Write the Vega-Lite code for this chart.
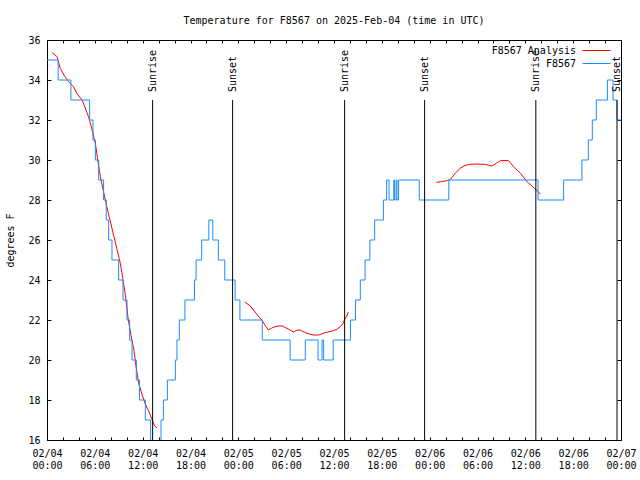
{
  "$schema": "https://vega.github.io/schema/vega-lite/v6.json",
  "width": 574,
  "height": 400,
  "autosize": {"type": "none"},
  "padding": {"left": 47, "top": 40, "right": 19, "bottom": 40},
  "background": "white",
  "title": {"text": "Temperature for F8567 on 2025-Feb-04 (time in UTC)", "font": "DejaVu Sans Mono", "fontSize": 10, "fontWeight": "normal", "color": "black", "anchor": "middle", "offset": 9},
  "config": {
    "view": {"stroke": "black", "strokeWidth": 1},
    "font": "DejaVu Sans Mono",
    "legend": {
      "orient": "none", "legendX": 544, "legendY": 5, "padding": 0, "title": null,
      "symbolType": "M-3,0H3", "symbolSize": 87, "symbolStrokeWidth": 1,
      "labelFont": "DejaVu Sans Mono", "labelFontSize": 10, "labelColor": "black",
      "labelAlign": "right", "labelOffset": -26, "rowPadding": 2
    }
  },
  "datasets": {
    "obs": [
      {"series": "F8567", "t": "2025-02-04T00:00:00Z", "temp": 35},
      {"series": "F8567", "t": "2025-02-04T01:24:00Z", "temp": 34},
      {"series": "F8567", "t": "2025-02-04T03:00:00Z", "temp": 33},
      {"series": "F8567", "t": "2025-02-04T05:21:00Z", "temp": 32},
      {"series": "F8567", "t": "2025-02-04T05:46:00Z", "temp": 31},
      {"series": "F8567", "t": "2025-02-04T06:04:00Z", "temp": 30},
      {"series": "F8567", "t": "2025-02-04T06:29:00Z", "temp": 29},
      {"series": "F8567", "t": "2025-02-04T07:06:00Z", "temp": 28},
      {"series": "F8567", "t": "2025-02-04T07:26:00Z", "temp": 27},
      {"series": "F8567", "t": "2025-02-04T07:44:00Z", "temp": 26},
      {"series": "F8567", "t": "2025-02-04T08:09:00Z", "temp": 25},
      {"series": "F8567", "t": "2025-02-04T08:59:00Z", "temp": 24},
      {"series": "F8567", "t": "2025-02-04T09:32:00Z", "temp": 23},
      {"series": "F8567", "t": "2025-02-04T10:02:00Z", "temp": 22},
      {"series": "F8567", "t": "2025-02-04T10:22:00Z", "temp": 21},
      {"series": "F8567", "t": "2025-02-04T10:40:00Z", "temp": 20},
      {"series": "F8567", "t": "2025-02-04T11:12:00Z", "temp": 19},
      {"series": "F8567", "t": "2025-02-04T11:36:00Z", "temp": 18},
      {"series": "F8567", "t": "2025-02-04T12:20:00Z", "temp": 17},
      {"series": "F8567", "t": "2025-02-04T13:00:00Z", "temp": 16},
      {"series": "F8567", "t": "2025-02-04T13:06:00Z", "temp": 15},
      {"series": "F8567", "t": "2025-02-04T14:03:00Z", "temp": 16},
      {"series": "F8567", "t": "2025-02-04T14:18:00Z", "temp": 17},
      {"series": "F8567", "t": "2025-02-04T14:36:00Z", "temp": 18},
      {"series": "F8567", "t": "2025-02-04T15:06:00Z", "temp": 19},
      {"series": "F8567", "t": "2025-02-04T16:06:00Z", "temp": 20},
      {"series": "F8567", "t": "2025-02-04T16:18:00Z", "temp": 21},
      {"series": "F8567", "t": "2025-02-04T16:36:00Z", "temp": 22},
      {"series": "F8567", "t": "2025-02-04T17:18:00Z", "temp": 23},
      {"series": "F8567", "t": "2025-02-04T18:30:00Z", "temp": 24},
      {"series": "F8567", "t": "2025-02-04T18:42:00Z", "temp": 25},
      {"series": "F8567", "t": "2025-02-04T19:24:00Z", "temp": 26},
      {"series": "F8567", "t": "2025-02-04T20:18:00Z", "temp": 27},
      {"series": "F8567", "t": "2025-02-04T20:48:00Z", "temp": 26},
      {"series": "F8567", "t": "2025-02-04T21:30:00Z", "temp": 25},
      {"series": "F8567", "t": "2025-02-04T22:18:00Z", "temp": 24},
      {"series": "F8567", "t": "2025-02-04T23:36:00Z", "temp": 23},
      {"series": "F8567", "t": "2025-02-05T00:12:00Z", "temp": 22},
      {"series": "F8567", "t": "2025-02-05T03:00:00Z", "temp": 21},
      {"series": "F8567", "t": "2025-02-05T06:30:00Z", "temp": 20},
      {"series": "F8567", "t": "2025-02-05T08:24:00Z", "temp": 21},
      {"series": "F8567", "t": "2025-02-05T10:00:00Z", "temp": 20},
      {"series": "F8567", "t": "2025-02-05T10:30:00Z", "temp": 21},
      {"series": "F8567", "t": "2025-02-05T10:42:00Z", "temp": 20},
      {"series": "F8567", "t": "2025-02-05T11:54:00Z", "temp": 21},
      {"series": "F8567", "t": "2025-02-05T14:04:00Z", "temp": 22},
      {"series": "F8567", "t": "2025-02-05T14:42:00Z", "temp": 23},
      {"series": "F8567", "t": "2025-02-05T15:18:00Z", "temp": 24},
      {"series": "F8567", "t": "2025-02-05T15:54:00Z", "temp": 25},
      {"series": "F8567", "t": "2025-02-05T16:30:00Z", "temp": 26},
      {"series": "F8567", "t": "2025-02-05T17:06:00Z", "temp": 27},
      {"series": "F8567", "t": "2025-02-05T18:12:00Z", "temp": 28},
      {"series": "F8567", "t": "2025-02-05T18:36:00Z", "temp": 29},
      {"series": "F8567", "t": "2025-02-05T18:54:00Z", "temp": 28},
      {"series": "F8567", "t": "2025-02-05T19:30:00Z", "temp": 29},
      {"series": "F8567", "t": "2025-02-05T19:36:00Z", "temp": 28},
      {"series": "F8567", "t": "2025-02-05T19:48:00Z", "temp": 29},
      {"series": "F8567", "t": "2025-02-05T19:54:00Z", "temp": 28},
      {"series": "F8567", "t": "2025-02-05T20:06:00Z", "temp": 29},
      {"series": "F8567", "t": "2025-02-05T22:42:00Z", "temp": 28},
      {"series": "F8567", "t": "2025-02-06T02:24:00Z", "temp": 29},
      {"series": "F8567", "t": "2025-02-06T13:36:00Z", "temp": 28},
      {"series": "F8567", "t": "2025-02-06T16:48:00Z", "temp": 29},
      {"series": "F8567", "t": "2025-02-06T19:06:00Z", "temp": 30},
      {"series": "F8567", "t": "2025-02-06T19:54:00Z", "temp": 31},
      {"series": "F8567", "t": "2025-02-06T20:24:00Z", "temp": 32},
      {"series": "F8567", "t": "2025-02-06T20:54:00Z", "temp": 33},
      {"series": "F8567", "t": "2025-02-06T22:18:00Z", "temp": 34},
      {"series": "F8567", "t": "2025-02-06T23:00:00Z", "temp": 33},
      {"series": "F8567", "t": "2025-02-06T23:30:00Z", "temp": 32},
      {"series": "F8567", "t": "2025-02-07T00:00:00Z", "temp": 32}
    ],
    "ana": [
      {"series": "F8567 Analysis", "seg": 1, "t": "2025-02-04T00:38:00Z", "temp": 35.37},
      {"series": "F8567 Analysis", "seg": 1, "t": "2025-02-04T01:15:00Z", "temp": 35.17},
      {"series": "F8567 Analysis", "seg": 1, "t": "2025-02-04T01:40:00Z", "temp": 34.58},
      {"series": "F8567 Analysis", "seg": 1, "t": "2025-02-04T02:12:00Z", "temp": 34.2},
      {"series": "F8567 Analysis", "seg": 1, "t": "2025-02-04T02:42:00Z", "temp": 33.92},
      {"series": "F8567 Analysis", "seg": 1, "t": "2025-02-04T03:18:00Z", "temp": 33.67},
      {"series": "F8567 Analysis", "seg": 1, "t": "2025-02-04T03:48:00Z", "temp": 33.3},
      {"series": "F8567 Analysis", "seg": 1, "t": "2025-02-04T04:24:00Z", "temp": 33.0},
      {"series": "F8567 Analysis", "seg": 1, "t": "2025-02-04T04:48:00Z", "temp": 32.6},
      {"series": "F8567 Analysis", "seg": 1, "t": "2025-02-04T05:12:00Z", "temp": 32.17},
      {"series": "F8567 Analysis", "seg": 1, "t": "2025-02-04T05:36:00Z", "temp": 31.6},
      {"series": "F8567 Analysis", "seg": 1, "t": "2025-02-04T06:04:00Z", "temp": 30.83},
      {"series": "F8567 Analysis", "seg": 1, "t": "2025-02-04T06:24:00Z", "temp": 29.9},
      {"series": "F8567 Analysis", "seg": 1, "t": "2025-02-04T06:42:00Z", "temp": 29.17},
      {"series": "F8567 Analysis", "seg": 1, "t": "2025-02-04T07:06:00Z", "temp": 28.4},
      {"series": "F8567 Analysis", "seg": 1, "t": "2025-02-04T07:30:00Z", "temp": 27.67},
      {"series": "F8567 Analysis", "seg": 1, "t": "2025-02-04T07:54:00Z", "temp": 27.0},
      {"series": "F8567 Analysis", "seg": 1, "t": "2025-02-04T08:24:00Z", "temp": 26.17},
      {"series": "F8567 Analysis", "seg": 1, "t": "2025-02-04T08:48:00Z", "temp": 25.5},
      {"series": "F8567 Analysis", "seg": 1, "t": "2025-02-04T09:12:00Z", "temp": 24.83},
      {"series": "F8567 Analysis", "seg": 1, "t": "2025-02-04T09:30:00Z", "temp": 24.1},
      {"series": "F8567 Analysis", "seg": 1, "t": "2025-02-04T09:48:00Z", "temp": 23.33},
      {"series": "F8567 Analysis", "seg": 1, "t": "2025-02-04T10:12:00Z", "temp": 22.0},
      {"series": "F8567 Analysis", "seg": 1, "t": "2025-02-04T10:30:00Z", "temp": 21.3},
      {"series": "F8567 Analysis", "seg": 1, "t": "2025-02-04T10:54:00Z", "temp": 20.5},
      {"series": "F8567 Analysis", "seg": 1, "t": "2025-02-04T11:12:00Z", "temp": 19.6},
      {"series": "F8567 Analysis", "seg": 1, "t": "2025-02-04T11:30:00Z", "temp": 18.83},
      {"series": "F8567 Analysis", "seg": 1, "t": "2025-02-04T11:54:00Z", "temp": 18.3},
      {"series": "F8567 Analysis", "seg": 1, "t": "2025-02-04T12:18:00Z", "temp": 17.83},
      {"series": "F8567 Analysis", "seg": 1, "t": "2025-02-04T12:48:00Z", "temp": 17.4},
      {"series": "F8567 Analysis", "seg": 1, "t": "2025-02-04T13:12:00Z", "temp": 17.0},
      {"series": "F8567 Analysis", "seg": 1, "t": "2025-02-04T13:30:00Z", "temp": 16.7},
      {"series": "F8567 Analysis", "seg": 1, "t": "2025-02-04T13:48:00Z", "temp": 16.6},
      {"series": "F8567 Analysis", "seg": 2, "t": "2025-02-05T00:48:00Z", "temp": 22.9},
      {"series": "F8567 Analysis", "seg": 2, "t": "2025-02-05T01:30:00Z", "temp": 22.7},
      {"series": "F8567 Analysis", "seg": 2, "t": "2025-02-05T02:06:00Z", "temp": 22.4},
      {"series": "F8567 Analysis", "seg": 2, "t": "2025-02-05T02:30:00Z", "temp": 22.2},
      {"series": "F8567 Analysis", "seg": 2, "t": "2025-02-05T02:58:00Z", "temp": 22.0},
      {"series": "F8567 Analysis", "seg": 2, "t": "2025-02-05T03:24:00Z", "temp": 21.7},
      {"series": "F8567 Analysis", "seg": 2, "t": "2025-02-05T03:48:00Z", "temp": 21.5},
      {"series": "F8567 Analysis", "seg": 2, "t": "2025-02-05T04:12:00Z", "temp": 21.6},
      {"series": "F8567 Analysis", "seg": 2, "t": "2025-02-05T04:36:00Z", "temp": 21.67},
      {"series": "F8567 Analysis", "seg": 2, "t": "2025-02-05T05:06:00Z", "temp": 21.7},
      {"series": "F8567 Analysis", "seg": 2, "t": "2025-02-05T05:30:00Z", "temp": 21.7},
      {"series": "F8567 Analysis", "seg": 2, "t": "2025-02-05T05:54:00Z", "temp": 21.62},
      {"series": "F8567 Analysis", "seg": 2, "t": "2025-02-05T06:18:00Z", "temp": 21.55},
      {"series": "F8567 Analysis", "seg": 2, "t": "2025-02-05T06:54:00Z", "temp": 21.4},
      {"series": "F8567 Analysis", "seg": 2, "t": "2025-02-05T07:18:00Z", "temp": 21.48},
      {"series": "F8567 Analysis", "seg": 2, "t": "2025-02-05T07:42:00Z", "temp": 21.5},
      {"series": "F8567 Analysis", "seg": 2, "t": "2025-02-05T08:00:00Z", "temp": 21.45},
      {"series": "F8567 Analysis", "seg": 2, "t": "2025-02-05T08:24:00Z", "temp": 21.37},
      {"series": "F8567 Analysis", "seg": 2, "t": "2025-02-05T08:54:00Z", "temp": 21.3},
      {"series": "F8567 Analysis", "seg": 2, "t": "2025-02-05T09:24:00Z", "temp": 21.25},
      {"series": "F8567 Analysis", "seg": 2, "t": "2025-02-05T10:06:00Z", "temp": 21.25},
      {"series": "F8567 Analysis", "seg": 2, "t": "2025-02-05T10:54:00Z", "temp": 21.37},
      {"series": "F8567 Analysis", "seg": 2, "t": "2025-02-05T11:30:00Z", "temp": 21.42},
      {"series": "F8567 Analysis", "seg": 2, "t": "2025-02-05T11:57:00Z", "temp": 21.47},
      {"series": "F8567 Analysis", "seg": 2, "t": "2025-02-05T12:24:00Z", "temp": 21.55},
      {"series": "F8567 Analysis", "seg": 2, "t": "2025-02-05T12:48:00Z", "temp": 21.67},
      {"series": "F8567 Analysis", "seg": 2, "t": "2025-02-05T13:06:00Z", "temp": 21.8},
      {"series": "F8567 Analysis", "seg": 2, "t": "2025-02-05T13:18:00Z", "temp": 22.0},
      {"series": "F8567 Analysis", "seg": 2, "t": "2025-02-05T13:36:00Z", "temp": 22.2},
      {"series": "F8567 Analysis", "seg": 2, "t": "2025-02-05T13:48:00Z", "temp": 22.4},
      {"series": "F8567 Analysis", "seg": 3, "t": "2025-02-06T00:50:00Z", "temp": 28.88},
      {"series": "F8567 Analysis", "seg": 3, "t": "2025-02-06T01:30:00Z", "temp": 28.92},
      {"series": "F8567 Analysis", "seg": 3, "t": "2025-02-06T02:12:00Z", "temp": 28.97},
      {"series": "F8567 Analysis", "seg": 3, "t": "2025-02-06T02:36:00Z", "temp": 29.03},
      {"series": "F8567 Analysis", "seg": 3, "t": "2025-02-06T03:12:00Z", "temp": 29.33},
      {"series": "F8567 Analysis", "seg": 3, "t": "2025-02-06T03:48:00Z", "temp": 29.58},
      {"series": "F8567 Analysis", "seg": 3, "t": "2025-02-06T04:18:00Z", "temp": 29.7},
      {"series": "F8567 Analysis", "seg": 3, "t": "2025-02-06T04:54:00Z", "temp": 29.78},
      {"series": "F8567 Analysis", "seg": 3, "t": "2025-02-06T05:54:00Z", "temp": 29.8},
      {"series": "F8567 Analysis", "seg": 3, "t": "2025-02-06T07:00:00Z", "temp": 29.78},
      {"series": "F8567 Analysis", "seg": 3, "t": "2025-02-06T07:48:00Z", "temp": 29.7},
      {"series": "F8567 Analysis", "seg": 3, "t": "2025-02-06T08:24:00Z", "temp": 29.85},
      {"series": "F8567 Analysis", "seg": 3, "t": "2025-02-06T08:54:00Z", "temp": 29.97},
      {"series": "F8567 Analysis", "seg": 3, "t": "2025-02-06T09:54:00Z", "temp": 29.97},
      {"series": "F8567 Analysis", "seg": 3, "t": "2025-02-06T10:30:00Z", "temp": 29.67},
      {"series": "F8567 Analysis", "seg": 3, "t": "2025-02-06T11:24:00Z", "temp": 29.33},
      {"series": "F8567 Analysis", "seg": 3, "t": "2025-02-06T12:12:00Z", "temp": 28.92},
      {"series": "F8567 Analysis", "seg": 3, "t": "2025-02-06T13:18:00Z", "temp": 28.53},
      {"series": "F8567 Analysis", "seg": 3, "t": "2025-02-06T13:54:00Z", "temp": 28.3}
    ],
    "sun": [
      {"t": "2025-02-04T13:15:00Z", "event": "Sunrise"},
      {"t": "2025-02-04T23:17:00Z", "event": "Sunset"},
      {"t": "2025-02-05T13:20:00Z", "event": "Sunrise"},
      {"t": "2025-02-05T23:22:00Z", "event": "Sunset"},
      {"t": "2025-02-06T13:19:00Z", "event": "Sunrise"},
      {"t": "2025-02-06T23:30:00Z", "event": "Sunset"}
    ]
  },
  "resolve": {"axis": {"x": "independent", "y": "independent"}},
  "layer": [
    {
      "data": {"name": "ana"},
      "mark": {"type": "line", "strokeWidth": 1, "clip": true},
      "encoding": {
        "x": {"field": "t", "type": "temporal",
              "scale": {"type": "utc", "domain": [1738627200000, 1738886400000], "nice": false},
              "axis": {"orient": "top", "values": [1738627200000, 1738634400000, 1738641600000, 1738648800000, 1738656000000, 1738663200000, 1738670400000, 1738677600000, 1738684800000, 1738692000000, 1738699200000, 1738706400000, 1738713600000, 1738720800000, 1738728000000, 1738735200000, 1738742400000, 1738749600000, 1738756800000, 1738764000000, 1738771200000, 1738778400000, 1738785600000, 1738792800000, 1738800000000, 1738807200000, 1738814400000, 1738821600000, 1738828800000, 1738836000000, 1738843200000, 1738850400000, 1738857600000, 1738864800000, 1738872000000, 1738879200000, 1738886400000], "labels": false, "title": null, "domain": false, "grid": false, "tickSize": -3, "tickColor": "black"}},
        "y": {"field": "temp", "type": "quantitative",
              "scale": {"domain": [16, 36], "nice": false, "zero": false},
              "axis": {"orient": "right", "values": [16, 18, 20, 22, 24, 26, 28, 30, 32, 34, 36], "labels": false, "title": null, "domain": false, "grid": false, "tickSize": -4, "tickColor": "black"}},
        "detail": {"field": "seg"},
        "color": {"field": "series", "type": "nominal", "scale": {"domain": ["F8567 Analysis", "F8567"], "range": ["#ff0000", "#1a8cff"]}}
      }
    },
    {
      "data": {"name": "obs"},
      "mark": {"type": "line", "interpolate": "step-after", "strokeWidth": 1, "clip": true},
      "encoding": {
        "x": {"field": "t", "type": "temporal",
              "axis": {"orient": "bottom", "values": [1738627200000, 1738634400000, 1738641600000, 1738648800000, 1738656000000, 1738663200000, 1738670400000, 1738677600000, 1738684800000, 1738692000000, 1738699200000, 1738706400000, 1738713600000, 1738720800000, 1738728000000, 1738735200000, 1738742400000, 1738749600000, 1738756800000, 1738764000000, 1738771200000, 1738778400000, 1738785600000, 1738792800000, 1738800000000, 1738807200000, 1738814400000, 1738821600000, 1738828800000, 1738836000000, 1738843200000, 1738850400000, 1738857600000, 1738864800000, 1738872000000, 1738879200000, 1738886400000], "labelExpr": "utchours(datum.value) % 6 === 0 ? [utcFormat(datum.value, '%m/%d'), utcFormat(datum.value, '%H:%M')] : ''", "labelOverlap": false, "labelFlush": false, "labelAngle": 0, "labelBaseline": "top", "labelLineHeight": 12, "labelPadding": 11, "labelFont": "DejaVu Sans Mono", "labelFontSize": 10, "labelColor": "black", "title": null, "domain": false, "grid": false, "tickSize": -3, "tickColor": "black"}},
        "y": {"field": "temp", "type": "quantitative",
              "axis": {"orient": "left", "values": [16, 18, 20, 22, 24, 26, 28, 30, 32, 34, 36], "labelPadding": 11, "labelFont": "DejaVu Sans Mono", "labelFontSize": 10, "labelColor": "black", "title": "degrees F", "titleFont": "DejaVu Sans Mono", "titleFontSize": 10, "titleFontWeight": "normal", "titleColor": "black", "titlePadding": 12, "domain": false, "grid": false, "tickSize": -4, "tickColor": "black"}},
        "color": {"field": "series", "type": "nominal"}
      }
    },
    {
      "data": {"name": "sun"},
      "mark": {"type": "rule", "color": "black", "strokeWidth": 1},
      "encoding": {
        "x": {"field": "t", "type": "temporal", "axis": null},
        "y": {"datum": 33, "type": "quantitative", "axis": null},
        "y2": {"datum": 16}
      }
    },
    {
      "data": {"name": "sun"},
      "mark": {"type": "text", "angle": 270, "align": "left", "baseline": "middle", "dx": 8, "font": "DejaVu Sans Mono", "fontSize": 10, "color": "black"},
      "encoding": {
        "x": {"field": "t", "type": "temporal", "axis": null},
        "y": {"datum": 33, "type": "quantitative", "axis": null},
        "text": {"field": "event"}
      }
    }
  ]
}
